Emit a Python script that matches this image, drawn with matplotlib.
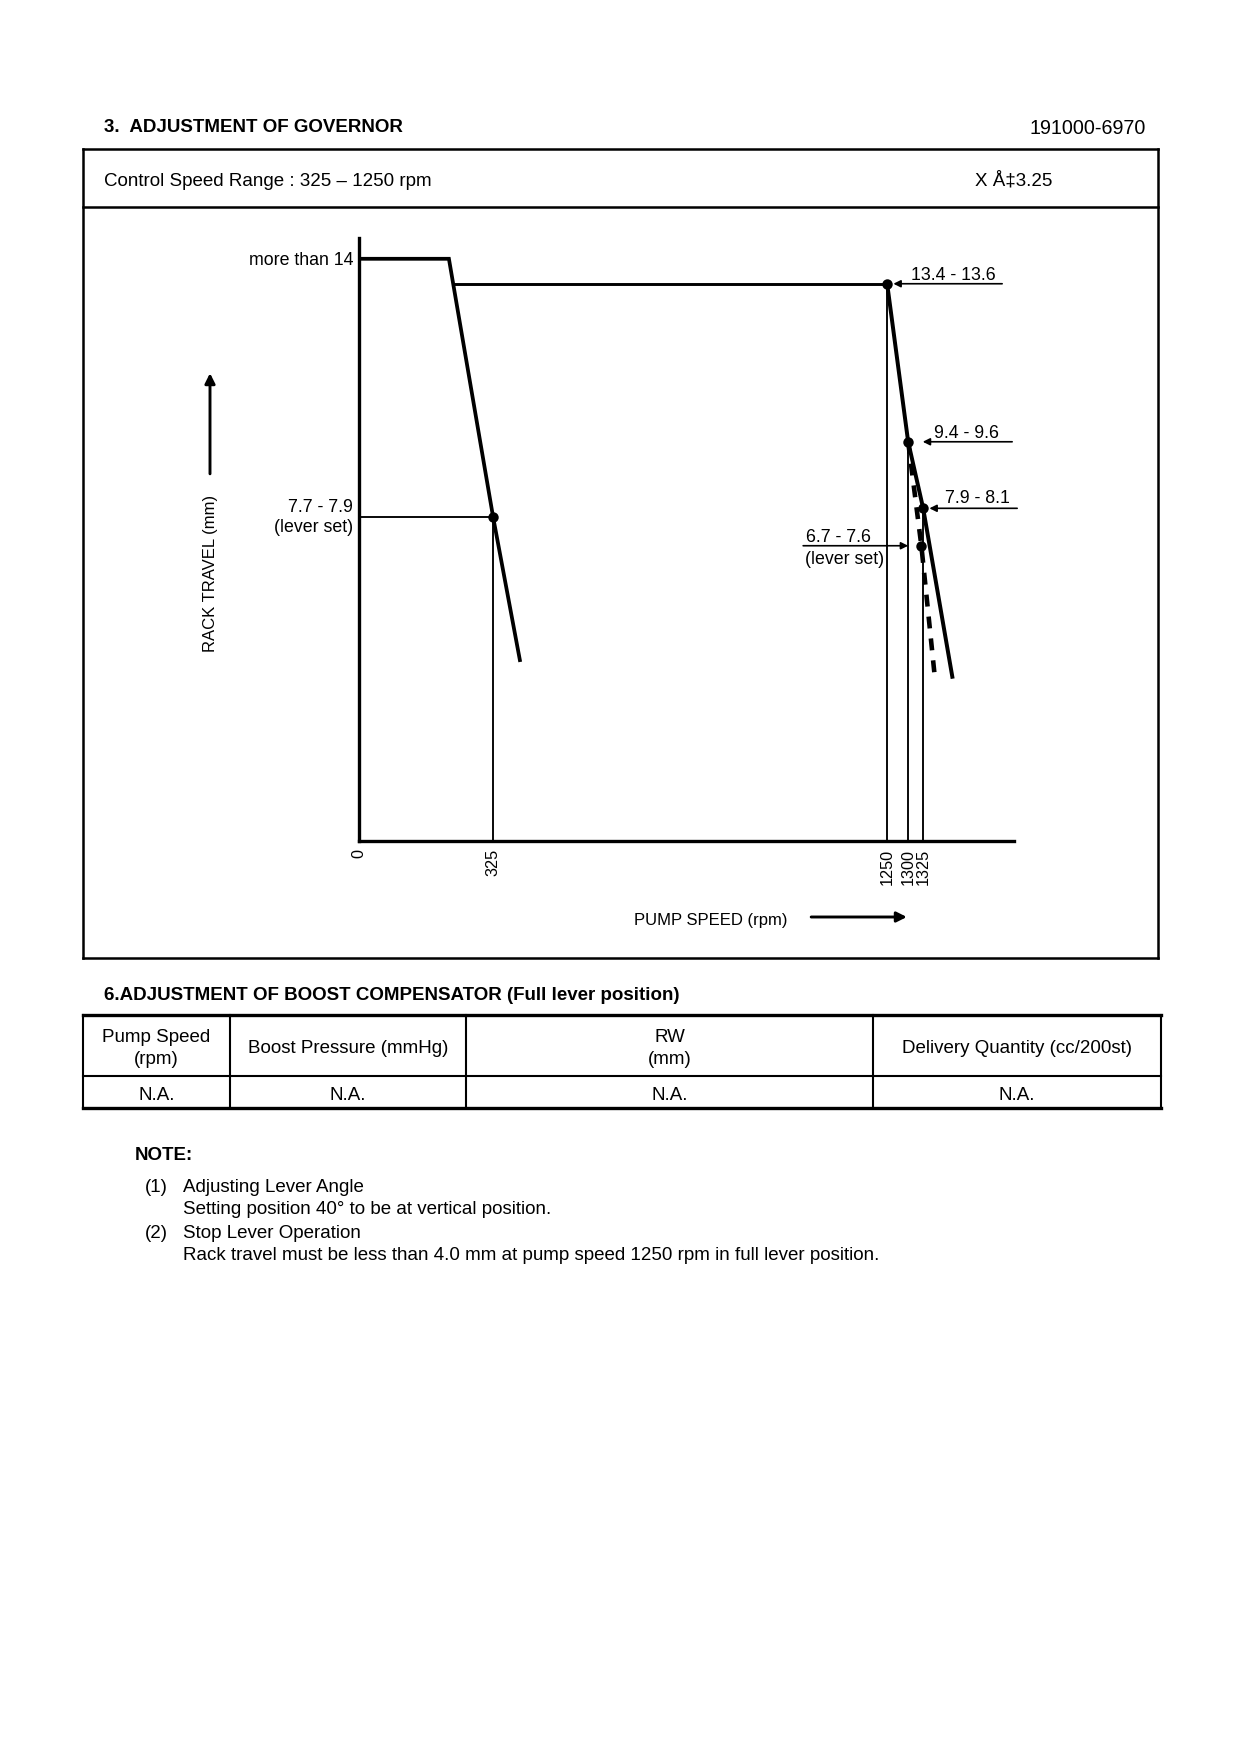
import numpy as np
import matplotlib
matplotlib.use("Agg")
import matplotlib.pyplot as plt
from matplotlib.lines import Line2D
from matplotlib.patches import FancyArrowPatch

plt.rcParams['font.family'] = ['Liberation Sans', 'DejaVu Sans']

# ---------------- data ----------------
idle_rpm = [0, 218, 325, 388]            # full-load plateau + idle governor
idle_rack = [14.0, 14.0, 7.8, 4.35]
plateau_rpm = [227, 1250]                # full-load rack position
plateau_rack = [13.4, 13.4]
high_rpm = [1250, 1300, 1325, 1394]      # high-speed governor (solid)
high_rack = [13.4, 9.6, 8.0, 3.95]
lever_rpm = [1300, 1322, 1353]           # lever-set droop (dashed)
lever_rack = [9.6, 7.1, 3.9]
point_rpm = [325, 1250, 1300, 1325, 1322]
point_rack = [7.8, 13.4, 9.6, 8.0, 7.1]
guide_rpm = [325, 1250, 1300, 1325]
guide_rack = [7.8, 13.4, 9.6, 8.0]
tick_rpm = [0, 325, 1250, 1300, 1325]
tick_labels = ["0", "325", "1250", "1300", "1325"]

boost_headers = ["Pump Speed\n(rpm)", "Boost Pressure (mmHg)", "RW\n(mm)",
                 "Delivery Quantity (cc/200st)"]
boost_values = ["N.A.", "N.A.", "N.A.", "N.A."]

note_items = ["(1)", "(2)"]
note_titles = ["Adjusting Lever Angle", "Stop Lever Operation"]
note_texts = ["Setting position 40\u00b0 to be at vertical position.",
              "Rack travel must be less than 4.0 mm at pump speed 1250 rpm in full lever position."]

# schematic (non-uniform) speed axis of the original drawing
axis_rpm = [-1000, 0, 325, 1250, 1300, 1325, 3000]
axis_pos = [-422.4, 0, 134, 528, 549, 564, 1271.5]


def fwd(x):
    return np.interp(x, axis_rpm, axis_pos)


def inv(p):
    return np.interp(p, axis_pos, axis_rpm)


# ---------------- figure ----------------
W, H, DPI = 1240, 1754, 150
fig = plt.figure(figsize=(W / DPI, H / DPI), dpi=DPI)
fig.patch.set_facecolor('white')
TY = 3  # small downward nudge for page text


def fx(x):
    return x / W


def fy(y):
    return 1 - y / H


def hline(x0, x1, y, lw=1.0):
    fig.add_artist(Line2D([fx(x0), fx(x1)], [fy(y), fy(y)], color='k', lw=lw,
                          transform=fig.transFigure, solid_capstyle='projecting'))


def vline(x, y0, y1, lw=1.0):
    fig.add_artist(Line2D([fx(x), fx(x)], [fy(y0), fy(y1)], color='k', lw=lw,
                          transform=fig.transFigure, solid_capstyle='projecting'))


def ptext(x, y, s, **kw):
    kw.setdefault('va', 'center')
    kw.setdefault('fontsize', 9)
    fig.text(fx(x), fy(y + TY), s, **kw)


# header
ptext(104, 125, "3.  ADJUSTMENT OF GOVERNOR", fontweight='bold', ha='left')
ptext(1146, 125, "191000-6970", fontsize=9.5, ha='right')

# outer box
hline(83, 1158, 149, 1.2)
hline(83, 1158, 207, 1.2)
hline(83, 1158, 958, 1.2)
vline(83, 149, 958, 1.2)
vline(1158, 149, 958, 1.2)
ptext(104, 178, "Control Speed Range : 325 \u2013 1250 rpm", ha='left')
ptext(975, 178, "X \u00c5\u20213.25", ha='left')

# ---------------- chart ----------------
ax = fig.add_axes([fx(359), fy(841), 655 / W, 603 / H])
ax.set_xscale('function', functions=(fwd, inv))
ax.set_xlim(0, 1540)
ax.set_ylim(0, 14.5)
ax.patch.set_alpha(0)

ax.plot(idle_rpm, idle_rack, color='k', lw=1.8, solid_joinstyle='miter')
ax.plot(plateau_rpm, plateau_rack, color='k', lw=1.4)
ax.plot(high_rpm, high_rack, color='k', lw=1.9)
ax.plot(lever_rpm, lever_rack, color='k', lw=2.2, linestyle=(0, (2.6, 2.2)))
ax.vlines(guide_rpm, 0, guide_rack, colors='k', lw=0.9)
ax.hlines(point_rack[0], 0, point_rpm[0], colors='k', lw=0.9)
ax.plot(point_rpm, point_rack, 'o', color='k', ms=4)

ax.set_xticks(tick_rpm, tick_labels, rotation=90, fontsize=7.8)
ax.minorticks_off()
ax.tick_params(axis='x', length=0, pad=4)
ax.set_yticks([])
for s in ['top', 'right']:
    ax.spines[s].set_visible(False)
for s in ['left', 'bottom']:
    ax.spines[s].set_linewidth(1.6)

arrow_kw = dict(arrowstyle='-|>', color='k', lw=0.8, mutation_scale=7,
                shrinkA=0, shrinkB=0)
label_kw = dict(textcoords='offset pixels', fontsize=8.5)

# left side labels
ax.annotate("more than 14", xy=(0, idle_rack[0]), xytext=(-6, -2), ha='right', va='center',
            **label_kw)
ax.annotate("7.7 - 7.9", xy=(0, point_rack[0]), xytext=(-6, 9), ha='right', va='center',
            **label_kw)
ax.annotate("(lever set)", xy=(0, point_rack[0]), xytext=(-6, -11), ha='right', va='center',
            **label_kw)

# right side leaders
ax.annotate("", xy=(point_rpm[1], point_rack[1]), xytext=(115, 0),
            textcoords='offset pixels', arrowprops=dict(arrow_kw, shrinkB=3))
ax.annotate("13.4 - 13.6", xy=(point_rpm[1], point_rack[1]), xytext=(24, 8),
            ha='left', va='center', **label_kw)

ax.annotate("", xy=(point_rpm[2], point_rack[2]), xytext=(104, 0),
            textcoords='offset pixels', arrowprops=dict(arrow_kw, shrinkB=7))
ax.annotate("9.4 - 9.6", xy=(point_rpm[2], point_rack[2]), xytext=(26, 8),
            ha='left', va='center', **label_kw)

ax.annotate("", xy=(point_rpm[3], point_rack[3]), xytext=(94, 0),
            textcoords='offset pixels', arrowprops=dict(arrow_kw, shrinkB=3))
ax.annotate("7.9 - 8.1", xy=(point_rpm[3], point_rack[3]), xytext=(22, 10),
            ha='left', va='center', **label_kw)

ax.annotate("", xy=(point_rpm[2], point_rack[4]), xytext=(-105, 0),
            textcoords='offset pixels', arrowprops=dict(arrow_kw, shrinkB=0))
ax.annotate("6.7 - 7.6", xy=(point_rpm[2], point_rack[4]), xytext=(-102, 8),
            ha='left', va='center', **label_kw)
ax.annotate("(lever set)", xy=(point_rpm[2], point_rack[4]), xytext=(-103, -14),
            ha='left', va='center', **label_kw)

# axis titles with arrows
fig.text(fx(210), fy(573), "RACK TRAVEL (mm)", rotation=90, fontsize=8,
         ha='center', va='center')
fig.add_artist(FancyArrowPatch(
    (fx(210), fy(478)), (fx(210), fy(369)), transform=fig.transFigure,
    arrowstyle='-|>', mutation_scale=10, lw=1.4, color='k'))
ptext(634, 917, "PUMP SPEED (rpm)", fontsize=8, ha='left')
fig.add_artist(FancyArrowPatch(
    (fx(807), fy(917)), (fx(911), fy(917)), transform=fig.transFigure,
    arrowstyle='-|>', mutation_scale=10, lw=1.4, color='k'))

# ---------------- boost compensator table ----------------
ptext(104, 992, "6.ADJUSTMENT OF BOOST COMPENSATOR (Full lever position)",
      fontweight='bold', ha='left')
col_edges = [83, 230, 466, 873, 1161]
t_top, t_mid, t_bot = 1015, 1076, 1108
hline(83, 1161, t_top, 1.6)
hline(83, 1161, t_mid, 1.0)
hline(83, 1161, t_bot, 1.6)
for x in col_edges:
    vline(x, t_top, t_bot, 1.0)
for i, (hd, val) in enumerate(zip(boost_headers, boost_values)):
    cx = (col_edges[i] + col_edges[i + 1]) / 2
    ptext(cx, (t_top + t_mid) / 2, hd, ha='center', linespacing=1.35,
          multialignment='center')
    ptext(cx, (t_mid + t_bot) / 2, val, ha='center')

# ---------------- notes ----------------
ptext(135, 1152, "NOTE:", fontweight='bold', ha='left')
note_y = [1184, 1230]
for item, title, txt, y in zip(note_items, note_titles, note_texts, note_y):
    ptext(145, y, item, ha='left')
    ptext(183, y, title, ha='left')
    ptext(183, y + 23, txt, ha='left')

fig.savefig("out.png", dpi=DPI, facecolor='white')
